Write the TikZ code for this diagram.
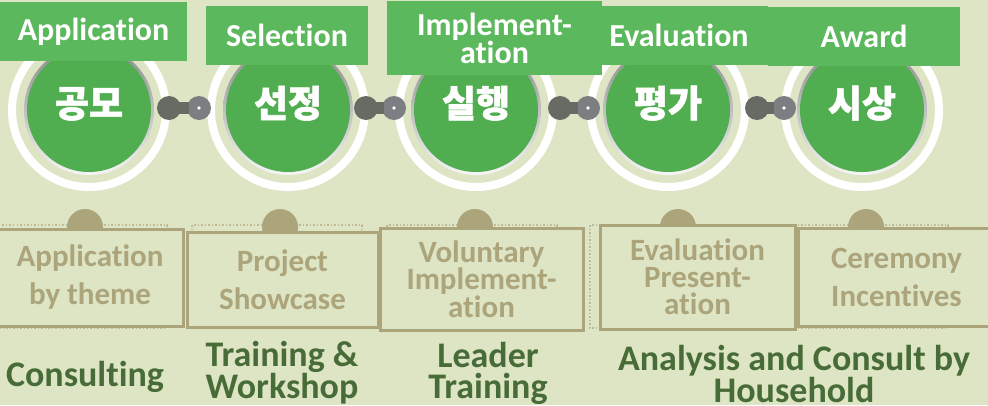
\documentclass[tikz,border=0pt]{standalone}
\usepackage{fontspec}
\setmainfont{Carlito}[RawFeature=-liga]
\newfontfamily\kor{Noto Sans CJK KR}[BoldFeatures={FakeBold=1.5}]
\usetikzlibrary{positioning}
\definecolor{paper}{RGB}{222,229,197}
\definecolor{stagegreen}{RGB}{80,174,80}
\definecolor{labelgreen}{RGB}{92,184,92}
\definecolor{shade}{RGB}{206,201,172}
\definecolor{tan}{RGB}{172,165,123}
\definecolor{lighttan}{RGB}{190,186,152}
\definecolor{deepgreen}{RGB}{72,108,56}
\definecolor{knobdark}{RGB}{104,106,100}
\definecolor{knoblight}{RGB}{124,126,130}

\begin{document}
\begin{tikzpicture}[x=1pt,y=-1pt]
        \tikzstyle{stage}=[circle,draw=white,line width=8pt,fill=paper,minimum size=154pt,inner sep=0pt,
                text=white,font=\kor\bfseries\fontsize{37}{37}\selectfont,text height=30pt,text depth=16pt,
                path picture={\fill[shade] (path picture bounding box.center) circle (65pt);
                              \fill[stagegreen] (path picture bounding box.center) circle (62pt);}]
        \tikzstyle{knob}=[circle,fill=knobdark,minimum size=24pt,inner sep=0pt]
        \tikzstyle{pin}=[knob,fill=knoblight,
                path picture={\fill[white] (path picture bounding box.center) circle (1.8pt);}]
        \tikzstyle{bar}=[draw=knobdark,line width=12pt,shorten <=-2pt,shorten >=-2pt]
        \tikzstyle{tag}=[fill=labelgreen,text=white,inner sep=0pt,align=center,
                font=\bfseries\fontsize{32}{28}\selectfont]
        \tikzstyle{card}=[draw=tan,line width=3pt,fill=paper,text=tan,inner sep=0pt,align=center,
                font=\bfseries\fontsize{31}{38}\selectfont]
        \tikzstyle{bump}=[circle,fill=tan,minimum size=36pt,inner sep=0pt]
        \tikzstyle{frame}=[draw=lighttan,dotted,line width=1.5pt]
        \tikzstyle{note}=[text=deepgreen,inner sep=0pt,align=center,
                font=\bfseries\fontsize{36}{31}\selectfont]

        \fill[paper] (0,0) rectangle (988,405);
        \useasboundingbox (0,0) rectangle (988,405);

        % dotted frames and bumps
        \foreach \cx in {85,280,475,678,866}
                \draw[frame] (\cx-88,225) rectangle (\cx+82,328);
        \node[bump] (P1) at (85,227)  { };
        \node[bump] (P2) at (280,227) { };
        \node[bump] (P3) at (475,227) { };
        \node[bump] (P4) at (678,227) { };
        \node[bump] (P5) at (866,227) { };

        % activity boxes
        \node[card,minimum width=186pt,minimum height=97pt]  (B1) at (90,277.5)  {Application\\by theme};
        \node[card,minimum width=191pt,minimum height=95pt]  (B2) at (282.5,279.5) {Project\\Showcase};
        \node[card,minimum width=203pt,minimum height=102pt,
              font=\bfseries\fontsize{31}{26}\selectfont]   (B3) at (481.5,279)  {Voluntary\\Implement-\\ation};
        \node[card,minimum width=195pt,minimum height=104pt,
              font=\bfseries\fontsize{31}{27}\selectfont]   (B4) at (697.5,277)  {Evaluation\\Present-\\ation};
        \node[card,minimum width=197pt,minimum height=98pt]  (B5) at (896.5,277)  {Ceremony\\Incentives};

        % stages
        \node[stage]  (C1) at (89,110)  {공모};
        \node[stage]  (C2) at (288,110) {선정};
        \node[stage]  (C3) at (476,110) {실행};
        \node[stage]  (C4) at (668,110) {평가};
        \node[stage]  (C5) at (862,110) {시상};

        % links
        \node[knob] (K1a) at (169,108) { };
        \node[pin]  (K1b) at (199,108) { };
        \node[knob] (K2a) at (366,108) { };
        \node[pin]  (K2b) at (394,108) { };
        \node[knob] (K3a) at (560,108) { };
        \node[pin]  (K3b) at (588,108) { };
        \node[knob] (K4a) at (757,108) { };
        \node[pin]  (K4b) at (784,108) { };
        \path[bar] (K1a) edge (K1b)
                   (K2a) edge (K2b)
                   (K3a) edge (K3b)
                   (K4a) edge (K4b);

        % stage names
        \node[tag,minimum width=187pt,minimum height=59pt] (T1) at (93.5,31.5) {Application};
        \node[tag,minimum width=162pt,minimum height=59pt] (T2) at (287,35.5)  {Selection};
        \node[tag,minimum width=178pt,minimum height=59pt] (T4) at (679,35.5)  {Evaluation};
        \node[tag,minimum width=215pt,minimum height=74pt] (T3) at (494.5,38)  {Implement-\\ation};
        \node[tag,minimum width=192pt,minimum height=59pt] (T5) at (864,36.5)  {Award};

        % support
        \node[note] (L1) at (85,377)    {Consulting};
        \node[note] (L2) at (282,373) {Training \&\\Workshop};
        \node[note] (L3) at (488,373) {Leader\\Training};
        \node[note,font=\bfseries\fontsize{36}{29}\selectfont]
                    (L4) at (794,374)   {Analysis and Consult by\\Household};
\end{tikzpicture}
\end{document}
